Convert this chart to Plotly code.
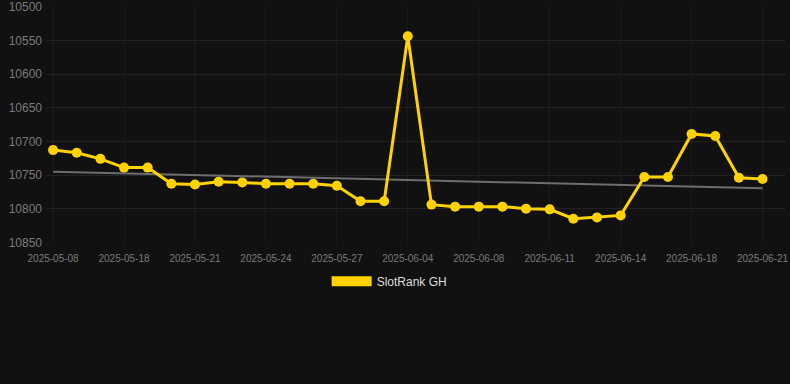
import plotly.graph_objects as go
import numpy as np

dates = ["2025-05-08", "2025-05-12", "2025-05-15", "2025-05-18", "2025-05-19", "2025-05-20",
         "2025-05-21", "2025-05-22", "2025-05-23", "2025-05-24", "2025-05-25", "2025-05-26",
         "2025-05-27", "2025-05-29", "2025-06-01", "2025-06-04", "2025-06-05", "2025-06-07",
         "2025-06-08", "2025-06-09", "2025-06-10", "2025-06-11", "2025-06-12", "2025-06-13",
         "2025-06-14", "2025-06-15", "2025-06-17", "2025-06-18", "2025-06-19", "2025-06-20",
         "2025-06-21"]
rank = [10713, 10717, 10726, 10739, 10739, 10763, 10764, 10760, 10761, 10763, 10763, 10763,
        10766, 10789, 10789, 10544, 10794, 10797, 10797, 10797, 10800, 10801, 10815, 10813,
        10810, 10753, 10753, 10689, 10692, 10754, 10756]
tick_dates = dates[::3]
y_ticks = [10500, 10550, 10600, 10650, 10700, 10750, 10800, 10850]
series_name = "SlotRank GH"

idx = np.arange(len(rank))
slope, intercept = np.polyfit(idx, rank, 1)
trend = list(slope * idx + intercept)

fig = go.Figure()
fig.add_trace(go.Scatter(x=dates, y=trend, mode="lines",
                         line=dict(color="#6e6e6e", width=2), showlegend=False, hoverinfo="skip"))
fig.add_trace(go.Scatter(x=dates, y=rank, mode="lines+markers", name=series_name,
                         line=dict(color="#FFD200", width=3),
                         marker=dict(color="#FFD200", size=10), showlegend=False))
fig.add_trace(go.Scatter(x=[None], y=[None], mode="lines", name=series_name,
                         line=dict(color="#FFD200", width=11), showlegend=True))

fig.update_layout(
    width=790, height=384,
    paper_bgcolor="#111111", plot_bgcolor="#111111",
    margin=dict(l=46, r=5, t=6, b=141, autoexpand=False),
    font=dict(family="Liberation Sans, Arial, sans-serif", color="#808080", size=11),
    xaxis=dict(type="category", categoryorder="array", categoryarray=dates,
               tickmode="array", tickvals=tick_dates, ticktext=tick_dates,
               range=[-0.3, 30.95], showgrid=True, gridcolor="#1b1b1b", gridwidth=1,
               zeroline=False, showline=False, ticks="", ticklabelstandoff=8,
               automargin=False, tickfont=dict(size=10, color="#7a7a7a")),
    yaxis=dict(autorange=False, range=[10851, 10499], tickmode="array", tickvals=y_ticks,
               ticktext=[str(v) for v in y_ticks], ticklabeloverflow="allow",
               showgrid=True, gridcolor="#222222", gridwidth=1, zeroline=False,
               automargin=False,
               ticks="", ticklabelstandoff=3, tickfont=dict(size=12, color="#7a7a7a")),
    legend=dict(orientation="h", x=0.465, xanchor="center", y=-0.1, yanchor="top",
                itemwidth=40,
                font=dict(size=12, color="#dddddd"), bgcolor="rgba(0,0,0,0)"),
)

fig.write_html("out.html")
